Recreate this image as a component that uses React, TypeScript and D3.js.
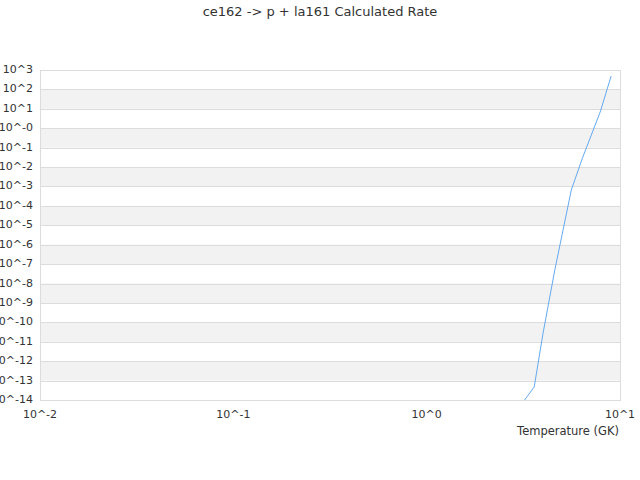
import * as d3 from "d3";

const WIDTH = 640;
const HEIGHT = 480;
const MARGIN = { top: 70, right: 20, bottom: 80, left: 40 };

// temperatures (GK) and calculated rates
const temperatures = [3.0, 3.6, 4.0, 4.6, 5.6, 6.4, 7.9, 9.0];
const rates = [4e-15, 4.7e-14, 2.8e-11, 5e-8, 6.6e-4, 0.03, 6.9, 490];

const yExponents = [3, 2, 1, 0, -1, -2, -3, -4, -5, -6, -7, -8, -9, -10, -11, -12, -13, -14];
const yTickLabels = ["10^3", "10^2", "10^1", "10^-0", "10^-1", "10^-2", "10^-3", "10^-4", "10^-5", "10^-6", "10^-7", "10^-8", "10^-9", "10^-10", "10^-11", "10^-12", "10^-13", "10^-14"];
const xExponents = [-2, -1, 0, 1];
const xTickLabels = ["10^-2", "10^-1", "10^0", "10^1"];

const FONT = "DejaVu Sans, sans-serif";

export default function App() {
	const innerW = WIDTH - MARGIN.left - MARGIN.right;
	const innerH = HEIGHT - MARGIN.top - MARGIN.bottom;

	const x = d3.scaleLog().domain([0.01, 10]).range([0, innerW]);
	const y = d3.scaleLog().domain([1e-14, 1e3]).range([innerH, 0]);

	const points = temperatures.map((t, i) => [t, rates[i]] as [number, number]);
	const line = d3
		.line<[number, number]>()
		.x((d) => x(d[0]))
		.y((d) => y(d[1]));

	// alternate bands: gray between 10^(2k) and 10^(2k-1)
	const bands = yExponents.filter((e) => e % 2 === 0 && e > -14);

	return (
		<div style={{ position: "fixed", left: 0, top: 0 }}>
			<svg width={WIDTH} height={HEIGHT} style={{ display: "block", background: "#fff" }} fontFamily={FONT}>
				<text x={WIDTH / 2} y={16} textAnchor="middle" fontSize={13} fill="#333">
					ce162 -&gt; p + la161 Calculated Rate
				</text>
				<defs>
					<clipPath id="plot-clip">
						<rect x={0} y={0} width={innerW} height={innerH} />
					</clipPath>
				</defs>
				<g transform={`translate(${MARGIN.left}, ${MARGIN.top})`}>
					{bands.map((e) => (
						<rect
							key={e}
							x={0}
							y={y(Math.pow(10, e))}
							width={innerW}
							height={y(Math.pow(10, e - 1)) - y(Math.pow(10, e))}
							fill="#f2f2f2"
						/>
					))}
					{yExponents.map((e) => (
						<line
							key={e}
							x1={0}
							x2={innerW}
							y1={Math.round(y(Math.pow(10, e))) + 0.5}
							y2={Math.round(y(Math.pow(10, e))) + 0.5}
							stroke="#dcdcdc"
						/>
					))}
					<rect x={0.5} y={0.5} width={innerW} height={innerH} fill="none" stroke="#dcdcdc" />
					<path
						d={line(points) ?? ""}
						fill="none"
						stroke="#65a9f0"
						strokeWidth={1}
						clipPath="url(#plot-clip)"
					/>
					{yExponents.map((e, i) => (
						<text
							key={e}
							x={-7}
							y={y(Math.pow(10, e))}
							textAnchor="end"
							dominantBaseline="middle"
							fontSize={11}
							fill="#333"
						>
							{yTickLabels[i]}
						</text>
					))}
					{xExponents.map((e, i) => (
						<text
							key={e}
							x={x(Math.pow(10, e))}
							y={innerH + 18}
							textAnchor="middle"
							fontSize={11}
							fill="#333"
						>
							{xTickLabels[i]}
						</text>
					))}
					<text x={innerW - 1} y={innerH + 35} textAnchor="end" fontSize={11.5} fill="#333">
						Temperature (GK)
					</text>
				</g>
			</svg>
		</div>
	);
}
